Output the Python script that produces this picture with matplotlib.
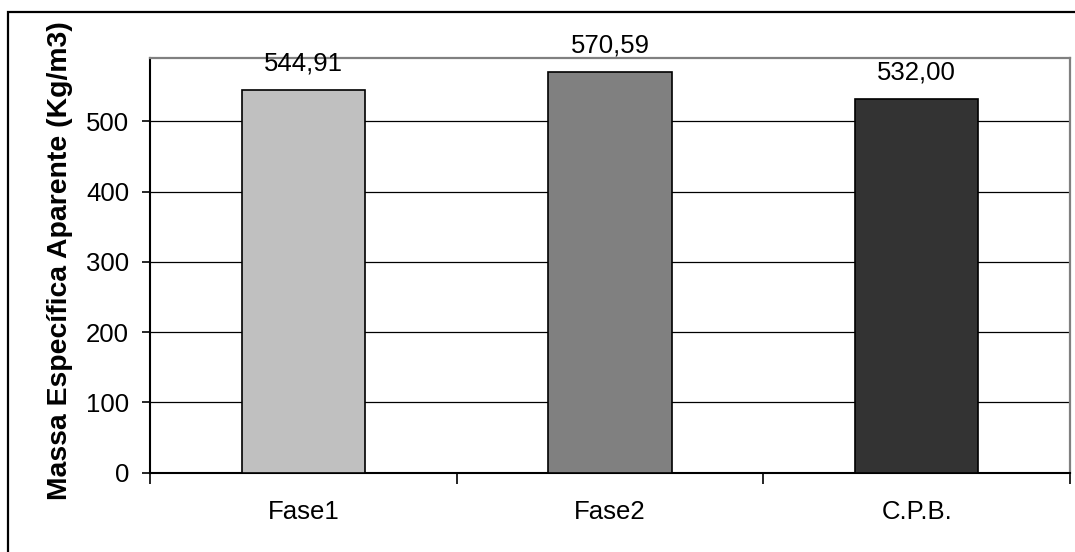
import matplotlib
matplotlib.use("Agg")
import matplotlib.pyplot as plt
from matplotlib.patches import Rectangle
from matplotlib.ticker import FixedLocator, NullFormatter

plt.rcParams['font.family'] = ['Liberation Sans', 'DejaVu Sans']

# Data
categories = ["Fase1", "Fase2", "C.P.B."]
values = [544.91, 570.59, 532.00]
value_labels = ["544,91", "570,59", "532,00"]
bar_colors = ["#C0C0C0", "#808080", "#333333"]
y_ticks = [0, 100, 200, 300, 400, 500]

W, H = 1075, 552
fig = plt.figure(figsize=(W / 100, H / 100), dpi=100)
fig.patch.set_facecolor("white")

# Outer chart frame (left and top edges visible)
fig.add_artist(Rectangle((8 / W, -0.1), 1.2, (H - 12) / H + 0.1,
                         transform=fig.transFigure, fill=False,
                         edgecolor="black", linewidth=1.6, zorder=0))

ax = fig.add_axes([150 / W, (H - 472.5) / H, 920 / W, 414.2 / H])
ax.set_facecolor("white")

x = list(range(len(categories)))
ax.bar(x, values, width=0.402, color=bar_colors, edgecolor="black",
       linewidth=1.2, zorder=3)

for xi, v, lab in zip(x, values, value_labels):
    ax.annotate(lab, (xi, v), xytext=(0, 10.5), textcoords="offset points",
                ha="center", va="bottom", fontsize=18.5, color="black")

ax.set_xlim(-0.5, len(categories) - 0.5)
ax.set_ylim(0, 590)

# Y axis
ax.set_yticks(y_ticks)
ax.set_yticklabels([str(t) for t in y_ticks])
ax.tick_params(axis="y", direction="out", length=6, width=1.2, pad=9,
               labelsize=18.5, colors="black")
ax.yaxis.grid(True, color="black", linewidth=0.9, zorder=0)
ax.set_axisbelow(True)

# X axis: ticks at category boundaries, labels at centers
ax.xaxis.set_major_locator(FixedLocator([i - 0.5 for i in range(len(categories) + 1)]))
ax.xaxis.set_major_formatter(NullFormatter())
ax.xaxis.set_minor_locator(FixedLocator(x))
ax.set_xticklabels(categories, minor=True)
ax.tick_params(axis="x", which="major", direction="out", length=8, width=1.2)
ax.tick_params(axis="x", which="minor", length=0, pad=20, labelsize=18.5)

for side in ("left", "bottom"):
    ax.spines[side].set_color("black")
    ax.spines[side].set_linewidth(1.5)
for side in ("top", "right"):
    ax.spines[side].set_color("#808080")
    ax.spines[side].set_linewidth(1.6)

fig.text(67 / W, (H - 261) / H, "Massa Específica Aparente (Kg/m3)",
         rotation=90, rotation_mode="anchor", ha="center", va="baseline",
         fontsize=20.4, fontweight="bold", color="black")

fig.savefig("out.png", dpi=100, facecolor="white")
